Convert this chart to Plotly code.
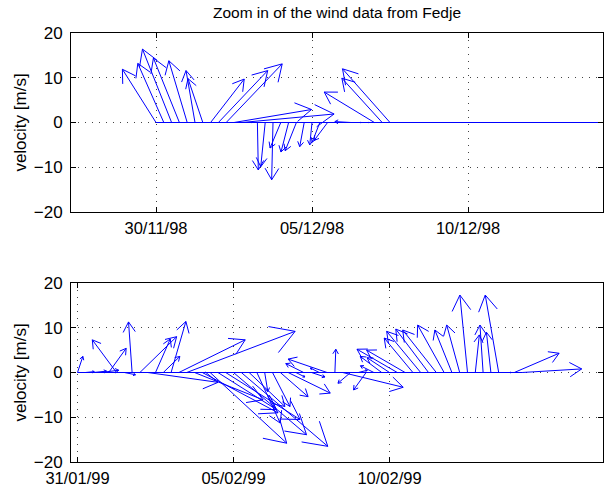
import plotly.graph_objects as go

# ---------------- data ----------------
title_text = "Zoom in of the wind data from Fedje"
ylabel_text = "velocity [m/s]"
step_days = 0.25  # 6-hourly samples

top_tick_vals = [0, 5, 10]
top_tick_text = ["30/11/98", "05/12/98", "10/12/98"]
bot_tick_vals = [0, 5, 10]
bot_tick_text = ["31/01/99", "05/02/99", "10/02/99"]
y_tick_vals = [-20, -10, 0, 10, 20]

# wind components (m/s), top: from 30/11/98 00:00, bottom: from 31/01/99 00:00
top_u = [-7.5, -5.8, -6.5, -5.8, -4.1, -2.0, -3.3, 7.5, 11.0, 12.5,
         17.3, 20.6, 0.5, 0.2, -1.0, -0.3, -2.4, -1.7, -2.5, -1.0,
         -0.5, -1.7, -3.0, 0.5, 0.5, -3.6, 0.5, 0.5, -11.2, -9.0,
         -10.6, 0, 0, 0, 0, 0, 0, 0, 0, 0,
         0, 0, 0, 0, 0, 0, 0, 0, 0, 0,
         0, 0, 0, 0, 0, 0, 0, 0]
top_v = [11.9, 13.2, 16.4, 14.4, 13.8, 11.6, 9.8, 9.7, 11.6, 13.1,
         2.9, 1.9, 0.0, -10.6, -9.9, -12.8, -5.7, -6.6, -6.3, -5.4,
         -5.0, -4.4, -4.0, 0.0, 0.0, 0.2, 0.0, 0.0, 6.8, 9.9,
         12.0, 0, 0, 0, 0, 0, 0, 0, 0, 0,
         0, 0, 0, 0, 0, 0, 0, 0, 0, 0,
         0, 0, 0, 0, 0, 0, 0, 0]

bot_u = [1.2, 2.0, 3.0, 4.0, 3.9, -5.4, 2.5, -0.8, 8.2, 15.7,
         3.3, 3.7, 3.3, 14.8, 24.2, 15.3, 16.9, 17.1, 13.1, 16.6,
         16.3, 19.3, 8.0, 5.2, 0.7, 3.9, 6.2, 9.4, 2.0, -4.0,
         3.0, -2.0, -8.7, 0.2, 13.5, -2.8, 2.0, -2.8, -3.0, -4.8,
         -5.0, -9.0, -8.6, -6.4, -7.6, -7.3, -7.5, -5.9, -3.8, -2.9,
         -1.7, 0.9, -0.7, -1.0, -3.0, 1.0, 10.0, 13.3]
bot_v = [3.6, 0.2, 0.3, 0.5, 5.4, 7.3, -0.5, 11.3, 8.0, -2.2,
         7.5, 3.6, 11.4, 7.3, 9.2, -6.1, -9.0, -15.8, -8.3, -10.5,
         -13.9, -16.5, -7.6, -11.3, -4.3, -7.6, -5.4, -4.6, -1.0, 2.0,
         -1.0, 1.0, 3.0, 5.2, -3.3, -2.4, 0.5, -3.9, 1.5, 3.6,
         3.3, 5.2, 5.0, 7.7, 9.2, 9.7, 9.5, 10.6, 9.5, 10.6,
         17.3, 8.4, 10.6, 9.0, 17.3, 0.0, 4.3, 0.8]

# ---------------- styling / geometry ----------------
KX = 0.1436          # days of time axis per m/s of eastward component
HEAD_BACK = 0.2
HEAD_WIDE = 0.12
BLUE = "#0000ff"
FONT = "Liberation Sans, Arial, Helvetica, sans-serif"
TICK_SIZE = 16.5
TITLE_SIZE = 15.5
LABEL_SIZE = 17


def feather(u_list, v_list):
    xs, ys = [], []
    for i, (u, v) in enumerate(zip(u_list, v_list)):
        t = i * step_days
        if u == 0 and v == 0:
            continue
        h1u, h1v = (1 - HEAD_BACK) * u - HEAD_WIDE * v, (1 - HEAD_BACK) * v + HEAD_WIDE * u
        h2u, h2v = (1 - HEAD_BACK) * u + HEAD_WIDE * v, (1 - HEAD_BACK) * v - HEAD_WIDE * u
        xs += [t, t + KX * u, t + KX * h1u, None, t + KX * u, t + KX * h2u, None]
        ys += [0, v, h1v, None, v, h2v, None]
    return xs, ys


fig = go.Figure()
for idx, (uu, vv) in enumerate([(top_u, top_v), (bot_u, bot_v)]):
    ax = "" if idx == 0 else "2"
    n = len(uu)
    fig.add_trace(go.Scatter(x=[0, (n - 1) * step_days], y=[0, 0], mode="lines",
                             line=dict(color=BLUE, width=1), xaxis="x" + ax, yaxis="y" + ax,
                             hoverinfo="skip", showlegend=False))
    xs, ys = feather(uu, vv)
    fig.add_trace(go.Scatter(x=xs, y=ys, mode="lines", line=dict(color=BLUE, width=1),
                             xaxis="x" + ax, yaxis="y" + ax, hoverinfo="skip", showlegend=False))

W, H = 607, 486
ML, MR, MT, MB = 71, 4, 33, 24
plot_h = H - MT - MB
top_dom = [(H - MB - 212) / plot_h, 1.0]
bot_dom = [0.0, (H - MB - 283) / plot_h]
px_per_day = 31.2
span = (W - ML - MR) / px_per_day

common_x = dict(showline=True, linecolor="black", linewidth=1, mirror="ticks",
                ticks="inside", ticklen=5, tickcolor="black", automargin=False,
                showgrid=True, gridcolor="#444", griddash="1px,6px", gridwidth=1,
                zeroline=False, ticklabelstandoff=1,
                tickfont=dict(family=FONT, size=TICK_SIZE, color="black"))
common_y = dict(common_x, range=[-20, 20], tickvals=y_tick_vals, ticklabelstandoff=4,
                tickfont=dict(family=FONT, size=17, color="black"),
                title=dict(text=ylabel_text, font=dict(family=FONT, size=LABEL_SIZE, color="black"),
                           standoff=2))

top_left = -(156 - ML) / px_per_day
bot_left = -(77.5 - ML) / px_per_day

fig.update_layout(
    width=W, height=H, margin=dict(l=ML, r=MR, t=MT, b=MB, autoexpand=False),
    paper_bgcolor="white", plot_bgcolor="white",
    title=dict(text=title_text, x=(ML + (W - ML - MR) / 2) / W, xanchor="center",
               y=1 - 13 / H, yanchor="middle", font=dict(family=FONT, size=TITLE_SIZE, color="black")),
    xaxis=dict(common_x, domain=[0, 1], anchor="y", range=[top_left, top_left + span],
               tickvals=top_tick_vals, ticktext=top_tick_text),
    yaxis=dict(common_y, domain=top_dom, anchor="x"),
    xaxis2=dict(common_x, domain=[0, 1], anchor="y2", range=[bot_left, bot_left + span],
                tickvals=bot_tick_vals, ticktext=bot_tick_text),
    yaxis2=dict(common_y, domain=bot_dom, anchor="x2"),
)

fig.write_html("out.html")
